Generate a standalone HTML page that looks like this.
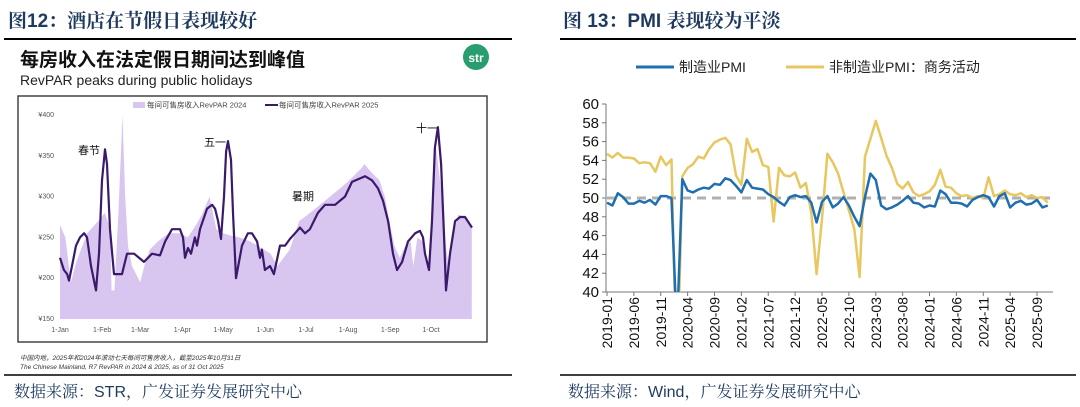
<!DOCTYPE html>
<html><head><meta charset="utf-8">
<style>
body{margin:0;width:1080px;height:407px;background:#fff;overflow:hidden;font-family:"Liberation Sans","Noto Sans CJK SC",sans-serif;}
svg{position:absolute;left:0;top:0}
</style></head>
<body>
<svg id="s" width="1080" height="407">
<text x="8" y="27" font-size="19" font-weight="bold" fill="#1f3a5f" font-family="'Liberation Sans','Noto Serif CJK SC',serif">图12：酒店在节假日表现较好</text>
<line x1="4" y1="39" x2="512" y2="39" stroke="#000" stroke-width="2"/>
<text x="20" y="66" font-size="19" font-weight="bold" fill="#111">每房收入在法定假日期间达到峰值</text>
<text x="20" y="85" font-size="14" fill="#222">RevPAR peaks during public holidays</text>
<circle cx="476" cy="57" r="13" fill="#2a9d6e"/>
<text x="476" y="62" font-size="12" font-weight="bold" fill="#fff" text-anchor="middle">str</text>
<rect x="18" y="96" width="469" height="246" fill="#fff" stroke="#444" stroke-width="1.5"/>
<rect x="133" y="102" width="12" height="6" fill="#d9c6f0"/>
<text x="147" y="107.5" font-size="7.5" fill="#444">每间可售房收入RevPAR 2024</text>
<line x1="265" y1="105" x2="278" y2="105" stroke="#3b1a6b" stroke-width="2"/>
<text x="279" y="107.5" font-size="7.5" fill="#444">每间可售房收入RevPAR 2025</text>
<g id="left"></g>
<text x="20" y="360" font-size="6.5" font-style="italic" fill="#333">中国内地，2025年和2024年滚动七天每间可售房收入，截至2025年10月31日</text>
<text x="20" y="369" font-size="6.5" font-style="italic" fill="#333">The Chinese Mainland, R7 RevPAR in 2024 &amp; 2025, as of 31 Oct 2025</text>
<line x1="4" y1="375" x2="512" y2="375" stroke="#000" stroke-width="1.5"/>
<text x="14" y="397" font-size="16" fill="#1f3a5f" font-family="'Liberation Sans','Noto Serif CJK SC',serif">数据来源：STR，广发证券发展研究中心</text>

<text x="563" y="27" font-size="19" font-weight="bold" fill="#1f3a5f" font-family="'Liberation Sans','Noto Serif CJK SC',serif">图 13：PMI 表现较为平淡</text>
<line x1="560" y1="39" x2="1076" y2="39" stroke="#000" stroke-width="2"/>
<line x1="636" y1="67" x2="674" y2="67" stroke="#1f6fb0" stroke-width="3"/>
<text x="679" y="72" font-size="14" fill="#222">制造业PMI</text>
<line x1="786" y1="67" x2="824" y2="67" stroke="#e8c660" stroke-width="3"/>
<text x="829" y="72" font-size="14" fill="#222">非制造业PMI：商务活动</text>
<g id="right"></g>
<line x1="560" y1="375" x2="1076" y2="375" stroke="#000" stroke-width="1.5"/>
<text x="568" y="397" font-size="16" fill="#1f3a5f" font-family="'Liberation Sans','Noto Serif CJK SC',serif">数据来源：Wind，广发证券发展研究中心</text>
</svg>
<script>
const NS="http://www.w3.org/2000/svg";
// ---- left chart data ----
const days2025=[0,2.9,5.2,6.6,8.8,11.8,14.7,17.7,19.9,22.8,26.5,28.7,30.9,33.1,34.6,36.8,39.7,42.7,45.6,49.3,54.5,61.8,67.7,73.6,77.3,82.4,88.3,90.5,92,94.2,96.4,99.3,100.8,103,108.2,111.9,114.1,116.3,118.5,120.7,122.2,123.6,125.8,127.3,129.5,133.9,138.3,141.3,145,147.2,148.6,150.8,154.5,157.4,161.9,165.6,169.2,172.9,176.6,180.3,183.9,189.8,195,202.4,206,209.7,214.9,224.4,229.6,234,237.7,241.4,245,248,251.7,256.1,261.3,264.9,267.1,268.6,271.5,273.7,275.9,278.1,280.4,282.6,284,287,290.7,294.4,298,303.2];
const rev2025=[225,210,205,197,215,240,250,255,250,215,185,230,320,358,340,260,205,205,205,230,230,220,230,228,245,260,260,250,225,237,230,250,240,260,285,290,285,270,248,300,355,368,345,280,200,240,255,255,245,225,235,210,215,205,240,240,248,255,262,255,260,280,290,290,295,300,318,325,320,310,295,270,230,210,220,245,255,258,250,230,210,270,360,385,340,250,185,230,270,275,275,262];
const days2024=[0,4,8,12,20,28,33,37,38,40,43,46,48,50,53,56,59,62,66,72,80,88,94,100,105,110,115,120,126,132,140,150,155,160,169,176,184,195,206,213,222,224,229,235,239,243,246,250,254,258,260,263,267,271,272,274,276,281,284,286,289,293,298,303];
const rev2024=[265,250,195,220,255,270,280,260,185,185,280,400,300,240,215,205,195,215,235,245,255,255,250,265,280,300,260,255,252,250,245,235,230,215,235,270,280,295,310,320,335,340,330,320,300,265,240,225,240,245,215,250,245,210,225,290,370,300,240,215,250,278,275,265];
const leftTicks=[150,200,250,300,350,400];
const monthLabels=["1-Jan","1-Feb","1-Mar","1-Apr","1-May","1-Jun","1-Jul","1-Aug","1-Sep","1-Oct"];
const monthDays=[0,31,59,90,120,151,181,212,243,273];
const lx=d=>60+d*1.359, ly=v=>319-(v-150)*204/250;
const L=document.getElementById('left');
function mk(tag,attrs,parent){const e=document.createElementNS(NS,tag);for(const k in attrs)e.setAttribute(k,attrs[k]);parent.appendChild(e);return e;}
let ap="M"+lx(days2024[0])+","+ly(150);
days2024.forEach((d,i)=>ap+=" L"+lx(d).toFixed(1)+","+ly(rev2024[i]).toFixed(1));
ap+=" L"+lx(days2024[days2024.length-1])+","+ly(150)+"Z";
const area=mk('path',{d:ap,fill:'#d9c6f0'},L);


const lp=days2025.map((d,i)=>(i?"L":"M")+lx(d).toFixed(1)+","+ly(rev2025[i]).toFixed(1)).join(" ");
const line25=mk('path',{d:lp,fill:'none',stroke:'#3b1a6b','stroke-width':2.2,'stroke-linejoin':'round'},L);


leftTicks.forEach(t=>{const e=mk('text',{x:54,y:ly(t)+2,'font-size':7,fill:'#555','text-anchor':'end'},L);e.textContent='¥'+t;

});
monthLabels.forEach((m,i)=>{const e=mk('text',{x:lx(monthDays[i]),y:332,'font-size':7,fill:'#555','text-anchor':'middle'},L);e.textContent=m;

});
[["春节",78,154],["五一",204,146],["暑期",292,200],["十一",416,132]].forEach(a=>{const e=mk('text',{x:a[1],y:a[2],'font-size':11,fill:'#111'},L);e.textContent=a[0];

});

// ---- right chart data ----
const mfg=[49.5,49.2,50.5,50.1,49.4,49.4,49.7,49.5,49.8,49.3,50.2,50.2,
50.0,35.7,52.0,50.8,50.6,50.9,51.1,51.0,51.5,51.4,52.1,51.9,
51.3,50.6,51.9,51.1,51.0,50.9,50.4,50.1,49.6,49.2,50.1,50.3,
50.1,50.2,49.5,47.4,49.6,50.2,49.0,49.4,50.1,49.2,48.0,47.0,
50.1,52.6,51.9,49.2,48.8,49.0,49.3,49.7,50.2,49.5,49.4,49.0,
49.2,49.1,50.8,50.4,49.5,49.5,49.4,49.1,49.8,50.1,50.3,50.1,
49.1,50.2,50.5,49.0,49.5,49.7,49.3,49.4,49.8,49.0,49.2];
const nonmfg=[54.7,54.3,54.8,54.3,54.3,54.2,53.7,53.8,53.7,52.8,54.4,53.5,
54.1,29.6,52.3,53.2,53.6,54.4,54.2,55.2,55.9,56.2,56.4,55.7,
52.4,51.4,56.3,54.9,55.2,53.5,53.3,47.5,53.2,52.4,52.3,52.7,
51.1,51.6,48.4,41.9,47.8,54.7,53.8,52.6,50.6,48.7,46.7,41.6,
54.4,56.3,58.2,56.4,54.5,53.2,51.5,51.0,51.7,50.6,50.2,50.4,
50.7,51.4,53.0,51.2,51.1,50.5,50.2,50.3,50.0,50.2,50.0,52.2,
50.2,50.4,50.8,50.4,50.3,50.5,50.1,50.3,50.0,50.1,49.5];
const rightTicks=[40,42,44,46,48,50,52,54,56,58,60];
const xLabels=["2019-01","2019-06","2019-11","2020-04","2020-09","2021-02","2021-07","2021-12","2022-05","2022-10","2023-03","2023-08","2024-01","2024-06","2024-11","2025-04","2025-09"];
const rx=i=>607+i*5.375, ry=v=>292-(v-40)*188/20;
const R=document.getElementById('right');
const defs=mk('defs',{},R);const cp=mk('clipPath',{id:'rc'},defs);mk('rect',{x:600,y:100,width:460,height:192},cp);
const ax=mk('line',{x1:606,y1:104,x2:606,y2:292,stroke:'#777'},R);


const bx=mk('line',{x1:606,y1:292,x2:1053,y2:292,stroke:'#777'},R);


rightTicks.forEach(t=>{mk('line',{x1:602,y1:ry(t),x2:606,y2:ry(t),stroke:'#777'},R);
const e=mk('text',{x:599,y:ry(t)+5,'font-size':15,fill:'#111','text-anchor':'end'},R);e.textContent=t;

});
xLabels.forEach((l,i)=>{const x=rx(i*5);mk('line',{x1:x,y1:292,x2:x,y2:296,stroke:'#777'},R);
const e=mk('text',{x:0,y:0,'font-size':14,fill:'#111','text-anchor':'end',transform:`translate(${x+5},297) rotate(-90)`},R);e.textContent=l;

});
const ref=mk('line',{x1:607,y1:ry(50),x2:1050,y2:ry(50),stroke:'#b0b0b0','stroke-width':3,'stroke-dasharray':'9,6'},R);


const pth=a=>a.map((v,i)=>(i?"L":"M")+rx(i).toFixed(1)+","+ry(v).toFixed(1)).join(" ");
const nm=mk('path',{d:pth(nonmfg),fill:'none',stroke:'#e8c660','stroke-width':2.5,'clip-path':'url(#rc)','stroke-linejoin':'round'},R);


const mf=mk('path',{d:pth(mfg),fill:'none',stroke:'#1f6fb0','stroke-width':2.5,'clip-path':'url(#rc)','stroke-linejoin':'round'},R);


</script>
</body></html>
